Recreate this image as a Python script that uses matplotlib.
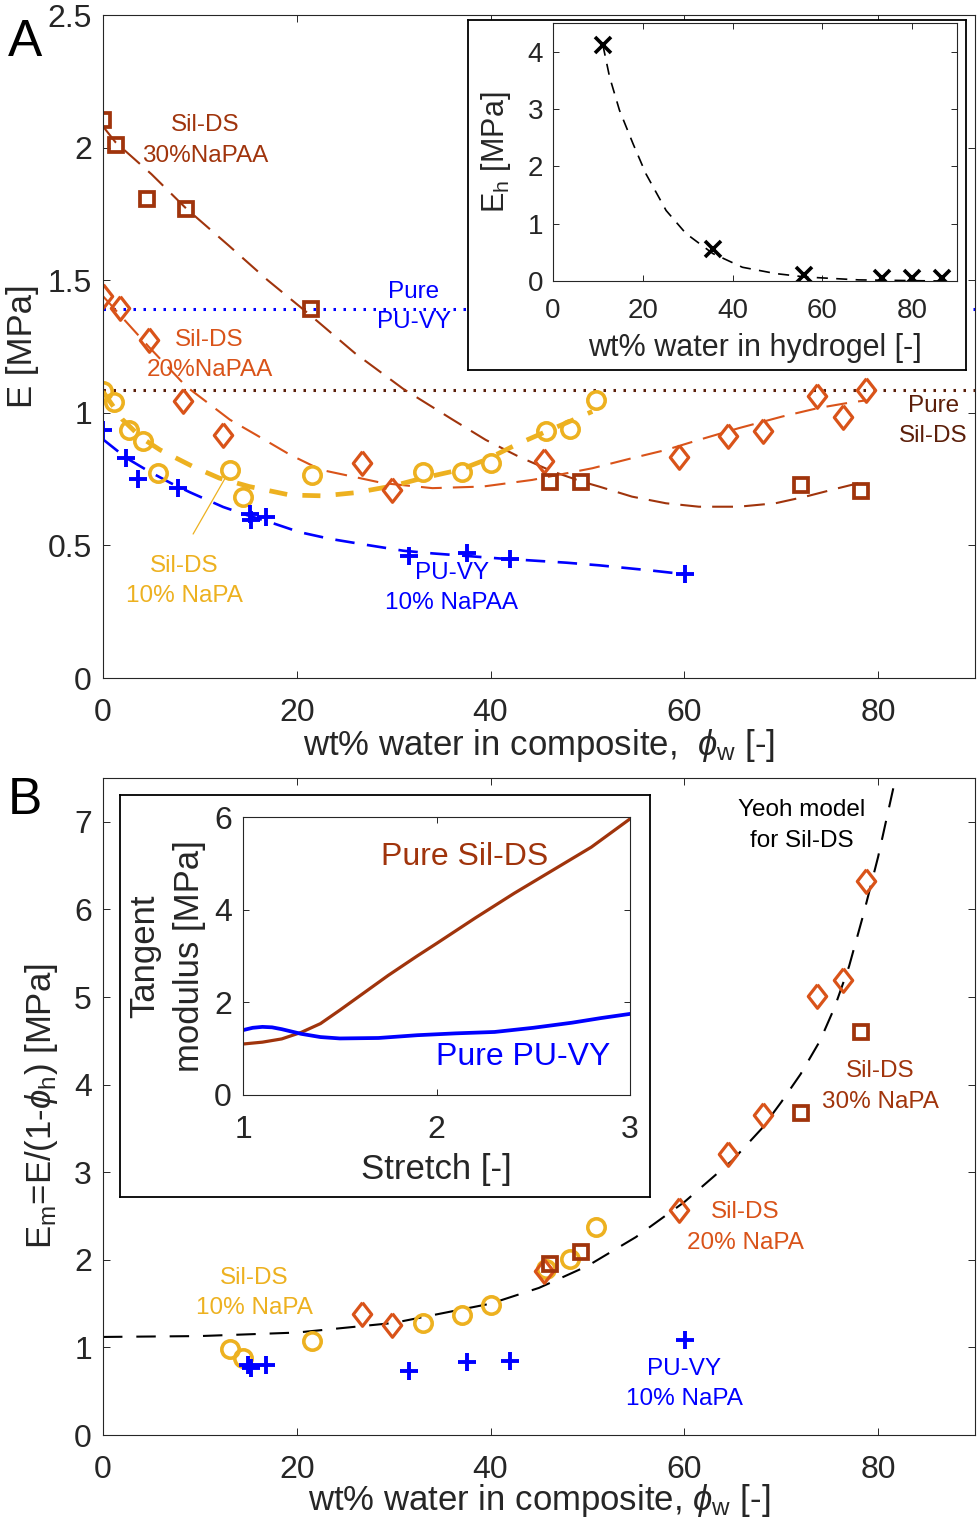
import matplotlib
matplotlib.use('Agg')
import matplotlib.pyplot as plt
from matplotlib.ticker import FormatStrFormatter
import numpy as np

plt.rcParams['font.family'] = ['Liberation Sans', 'DejaVu Sans']
plt.rcParams['mathtext.fontset'] = 'custom'
plt.rcParams['mathtext.rm'] = 'Liberation Sans'
plt.rcParams['mathtext.it'] = 'Liberation Sans:italic'
plt.rcParams['xtick.direction'] = 'in'
plt.rcParams['ytick.direction'] = 'in'
plt.rcParams['xtick.top'] = True
plt.rcParams['ytick.right'] = True
plt.rcParams['xtick.major.size'] = 5
plt.rcParams['ytick.major.size'] = 5
plt.rcParams['xtick.major.width'] = 0.7
plt.rcParams['ytick.major.width'] = 0.7
plt.rcParams['axes.linewidth'] = 0.8
plt.rcParams['axes.edgecolor'] = '#262626'
plt.rcParams['xtick.color'] = '#262626'
plt.rcParams['ytick.color'] = '#262626'
plt.rcParams['axes.labelcolor'] = '#262626'
plt.rcParams['lines.scale_dashes'] = False

c30 = '#A0340C'
c20 = '#D95319'
c10 = '#EDB120'
cpu = '#0000FF'
csil = '#5C1F0A'

# ---------------- panel A data: E [MPa] vs wt% water in composite
x30 = [0.0, 1.3, 4.5, 8.6, 21.5, 46.1, 49.3, 72.0, 78.2]
E30 = [2.106, 2.011, 1.806, 1.769, 1.391, 0.738, 0.741, 0.726, 0.707]
x20 = [0.0, 1.75, 4.7, 8.3, 12.4, 26.7, 29.8, 45.5, 59.4, 64.5, 68.1, 73.7, 76.4, 78.8]
E20 = [1.441, 1.395, 1.275, 1.043, 0.917, 0.812, 0.709, 0.820, 0.835, 0.914, 0.932, 1.062, 0.986, 1.086]
x10 = [0.0, 1.1, 2.7, 4.1, 5.7, 13.1, 14.4, 21.6, 33.0, 37.1, 40.0, 45.7, 48.2, 50.9]
E10 = [1.083, 1.040, 0.936, 0.894, 0.772, 0.785, 0.684, 0.767, 0.778, 0.778, 0.810, 0.930, 0.938, 1.049]
xpu = [0.0, 2.4, 3.6, 7.7, 15.2, 15.3, 16.8, 31.6, 37.6, 42.0, 60.1]
Epu = [0.936, 0.829, 0.750, 0.716, 0.620, 0.595, 0.609, 0.459, 0.472, 0.448, 0.392]

E_pure_pu = 1.39
E_pure_sil = 1.085

# dashed fit curves
fit30_x = [0, 1.3, 5, 8.6, 13, 17, 21.5, 26, 31, 36.1, 39.5, 42.9, 46.4, 49.4, 51.2, 54.6, 58.1, 61.5, 65.6, 69.4, 72.5, 75.9, 78.0]
fit30_y = [2.08, 2.02, 1.90, 1.77, 1.63, 1.50, 1.365, 1.225, 1.09, 0.974, 0.898, 0.835, 0.779, 0.741, 0.722, 0.684, 0.659, 0.646, 0.646, 0.659, 0.684, 0.716, 0.735]
fit20_x = [0, 1.9, 4.7, 8.6, 10.3, 13.1, 15.8, 19.3, 22.5, 26.1, 28.9, 34, 39.2, 44.3, 50.5, 54.6, 58.1, 61.5, 65.6, 70.1, 73.8, 77.3, 78.8]
fit20_y = [1.44, 1.363, 1.25, 1.099, 1.052, 0.974, 0.917, 0.842, 0.785, 0.757, 0.735, 0.716, 0.722, 0.747, 0.791, 0.829, 0.860, 0.898, 0.942, 0.986, 1.018, 1.04, 1.047]
fit10_x = [0, 2, 4, 5.9, 9.3, 12, 15.1, 19.3, 22.7, 26.1, 30, 33, 36.8, 39.5, 42.6, 45.7, 48, 50.5]
fit10_y = [1.08, 0.975, 0.905, 0.86, 0.797, 0.754, 0.722, 0.69, 0.687, 0.699, 0.725, 0.754, 0.785, 0.823, 0.879, 0.929, 0.965, 1.005]
fitpu_x = [0, 2.4, 4.7, 7, 9, 12.4, 14.8, 17.2, 20.3, 23.4, 27.2, 31, 34, 40.9, 47.8, 51.2, 56.7, 59.9]
fitpu_y = [0.90, 0.83, 0.78, 0.735, 0.70, 0.645, 0.615, 0.588, 0.55, 0.525, 0.502, 0.48, 0.47, 0.451, 0.435, 0.425, 0.405, 0.392]

# inset A: hydrogel modulus
xh = [11.1, 35.6, 56.0, 73.4, 80.0, 86.7]
Eh = [4.12, 0.55, 0.10, 0.05, 0.05, 0.05]
fith_x = [11.1, 12.6, 14.8, 17.8, 20.7, 25.2, 29.6, 35.6, 42.2, 49.6, 56.3, 68.1, 86.7]
fith_y = [4.12, 3.56, 2.98, 2.40, 1.87, 1.23, 0.83, 0.48, 0.24, 0.13, 0.07, 0.02, 0.0]

# ---------------- panel B data: Em = E/(1-phi_h)
x30b = [46.1, 49.3, 72.0, 78.2]
Em30 = [1.95, 2.09, 3.68, 4.60]
x20b = [26.7, 29.8, 45.5, 59.4, 64.5, 68.1, 73.7, 76.4, 78.8]
Em20 = [1.385, 1.254, 1.87, 2.57, 3.21, 3.65, 5.01, 5.20, 6.33]
x10b = [13.1, 14.4, 21.6, 33.0, 37.1, 40.0, 45.7, 48.2, 50.9]
Em10 = [0.985, 0.877, 1.077, 1.28, 1.365, 1.49, 1.90, 2.01, 2.38]
xpub = [15.0, 15.3, 16.8, 31.6, 37.6, 42.0, 60.1]
Empu = [0.80, 0.77, 0.80, 0.73, 0.83, 0.85, 1.09]

yeoh_x = [0, 10, 20, 30, 40, 45, 50, 55, 60, 65, 68, 70, 72, 74, 75.5, 77, 78.5, 80, 81, 81.8]
yeoh_y = [1.12, 1.13, 1.17, 1.28, 1.50, 1.68, 1.93, 2.26, 2.66, 3.14, 3.50, 3.80, 4.12, 4.50, 4.88, 5.35, 5.95, 6.60, 7.10, 7.50]

# inset B: tangent modulus vs stretch
st_sil = [1.0, 1.1, 1.2, 1.3, 1.4, 1.5, 1.6, 1.75, 1.9, 2.0, 2.2, 2.4, 2.6, 2.8, 3.0]
tm_sil = [1.10, 1.14, 1.21, 1.35, 1.54, 1.83, 2.13, 2.58, 3.00, 3.27, 3.82, 4.35, 4.85, 5.35, 5.96]
st_pu = [1.0, 1.05, 1.1, 1.15, 1.2, 1.3, 1.4, 1.5, 1.7, 1.9, 2.1, 2.3, 2.5, 2.7, 2.85, 3.0]
tm_pu = [1.40, 1.45, 1.47, 1.46, 1.42, 1.32, 1.25, 1.22, 1.23, 1.29, 1.33, 1.36, 1.45, 1.56, 1.66, 1.75]

diamond = [(0, 1), (0.78, 0), (0, -1), (-0.78, 0), (0, 1)]
sq = dict(marker='s', ms=9.5, mew=2.7, mfc='none', mec=c30, ls='none')
dm = dict(marker=diamond, ms=17, mew=2.3, mfc='none', mec=c20, ls='none')
ci = dict(marker='o', ms=12.5, mew=2.6, mfc='none', mec=c10, ls='none')
pl = dict(marker='+', ms=13, mew=2.8, mec=cpu, ls='none')

fig = plt.figure(figsize=(9.8, 15.34), dpi=100)

# ================= panel A
ax = fig.add_axes([0.1051, 0.558, 0.8898, 0.4322])
ax.axhline(E_pure_pu, color=cpu, lw=2.2, dashes=(1.8, 5.4), zorder=1)
ax.axhline(E_pure_sil, color=csil, lw=2.2, dashes=(1.8, 5.4), zorder=1)
ax.plot(fit30_x, fit30_y, color=c30, lw=1.5, dashes=(15, 8))
ax.plot(fit20_x, fit20_y, color=c20, lw=1.5, dashes=(15, 8))
ax.plot(fit10_x, fit10_y, color=c10, lw=3.4, dashes=(13, 11))
ax.plot(fitpu_x, fitpu_y, color=cpu, lw=1.9, dashes=(14, 9))
ax.plot(x10, E10, **ci)
ax.plot(x20, E20, **dm)
ax.plot(x30, E30, **sq)
ax.plot(xpu, Epu, **pl)
ax.annotate('', xy=(x10[5], E10[5]), xytext=(9.3, 0.543),
            arrowprops=dict(arrowstyle='-', color=c10, lw=0.9, shrinkA=0, shrinkB=7))
ax.set_xlim(0, 90)
ax.set_ylim(0, 2.5)
ax.set_xticks([0, 20, 40, 60, 80])
ax.set_yticks([0, 0.5, 1, 1.5, 2, 2.5])
ax.yaxis.set_major_formatter(FormatStrFormatter('%g'))
ax.tick_params(labelsize=23)
ax.tick_params(axis='x', pad=14.5)
ax.tick_params(axis='y', pad=8)
ax.set_xlabel(r'wt% water in composite,  $\phi_{\mathrm{w}}$ [-]', fontsize=25, labelpad=-1)
ax.set_ylabel('E [MPa]', fontsize=25, labelpad=6)

tkw = dict(fontsize=17.5, ha='center', va='center', linespacing=1.5)
ax.text(10.5, 2.026, 'Sil-DS\n30%NaPAA', color=c30, **tkw)
ax.text(32.1, 1.40, 'Pure\nPU-VY', color=cpu, **tkw)
ax.text(11.0, 1.219, 'Sil-DS\n20%NaPAA', color=c20, **tkw)
ax.text(85.7, 0.97, 'Pure\nSil-DS', color=csil, **tkw)
ax.text(8.4, 0.366, 'Sil-DS\n10% NaPA', color=c10, **tkw)
ax.text(36.0, 0.34, 'PU-VY\n10% NaPAA', color=cpu, **tkw)

# inset A frame + axes
box = fig.add_axes([0.4776, 0.7588, 0.5082, 0.2282])
box.set_xticks([])
box.set_yticks([])
for s in box.spines.values():
    s.set_color('black')
    s.set_linewidth(1.3)
box.set_zorder(2)

axi = fig.add_axes([0.5643, 0.8168, 0.4122, 0.1682])
axi.set_zorder(3)
axi.plot(fith_x, fith_y, color='black', lw=1.2, dashes=(8, 6))
axi.plot(xh, Eh, marker='x', ms=11, mew=2.6, color='black', ls='none')
axi.set_xlim(0, 90)
axi.set_ylim(0, 4.5)
axi.set_xticks([0, 20, 40, 60, 80])
axi.set_yticks([0, 1, 2, 3, 4])
axi.tick_params(labelsize=20, length=4)
axi.tick_params(axis='x', pad=12)
axi.tick_params(axis='y', pad=7)
axi.set_xlabel('wt% water in hydrogel [-]', fontsize=22, labelpad=7)
axi.set_ylabel(r'E$_{\mathrm{h}}$ [MPa]', fontsize=22, labelpad=11)

fig.text(25 / 980, 1 - 42 / 1534, 'A', fontsize=37, ha='center', va='center')

# ================= panel B
bx = fig.add_axes([0.1051, 0.0645, 0.8898, 0.4283])
bx.plot(yeoh_x, yeoh_y, color='black', lw=1.5, dashes=(14, 10))
bx.plot(x10b, Em10, **ci)
bx.plot(x20b, Em20, **dm)
bx.plot(x30b, Em30, **sq)
bx.plot(xpub, Empu, **pl)
bx.set_xlim(0, 90)
bx.set_ylim(0, 7.5)
bx.set_xticks([0, 20, 40, 60, 80])
bx.set_yticks([0, 1, 2, 3, 4, 5, 6, 7])
bx.tick_params(labelsize=23)
bx.tick_params(axis='x', pad=14.5)
bx.tick_params(axis='y', pad=8)
bx.set_xlabel(r'wt% water in composite, $\phi_{\mathrm{w}}$ [-]', fontsize=25, labelpad=-2)
bx.set_ylabel(r'E$_{\mathrm{m}}$=E/(1-$\phi_{\mathrm{h}}$) [MPa]', fontsize=25, labelpad=10)

bx.text(72.1, 6.96, 'Yeoh model\nfor Sil-DS', color='black', **tkw)
bx.text(80.2, 3.98, 'Sil-DS\n30% NaPA', color=c30, **tkw)
bx.text(66.3, 2.37, 'Sil-DS\n20% NaPA', color=c20, **tkw)
bx.text(15.6, 1.62, 'Sil-DS\n10% NaPA', color=c10, **tkw)
bx.text(60.0, 0.58, 'PU-VY\n10% NaPA', color=cpu, **tkw)

# inset B frame + axes
box2 = fig.add_axes([0.1224, 0.2197, 0.5408, 0.2621])
box2.set_xticks([])
box2.set_yticks([])
for s in box2.spines.values():
    s.set_color('black')
    s.set_linewidth(1.3)
box2.set_zorder(2)

bxi = fig.add_axes([0.248, 0.2862, 0.3949, 0.1812])
bxi.set_zorder(3)
bxi.plot(st_sil, tm_sil, color=c30, lw=2.3)
bxi.plot(st_pu, tm_pu, color=cpu, lw=2.7)
bxi.set_xlim(1, 3)
bxi.set_ylim(0, 6)
bxi.set_xticks([1, 2, 3])
bxi.set_yticks([0, 2, 4, 6])
bxi.tick_params(labelsize=23, length=4)
bxi.tick_params(axis='x', pad=14.5)
bxi.tick_params(axis='y', pad=8)
bxi.set_xlabel('Stretch [-]', fontsize=25, labelpad=6)
bxi.set_ylabel('Tangent\nmodulus [MPa]', fontsize=25, labelpad=6, linespacing=1.45)
bxi.text(2.147, 5.14, 'Pure Sil-DS', color=c30, fontsize=23, ha='center', va='center')
bxi.text(2.447, 0.82, 'Pure PU-VY', color=cpu, fontsize=23, ha='center', va='center')

fig.text(25 / 980, 1 - 800 / 1534, 'B', fontsize=37, ha='center', va='center')

plt.savefig('out.png', dpi=100)
